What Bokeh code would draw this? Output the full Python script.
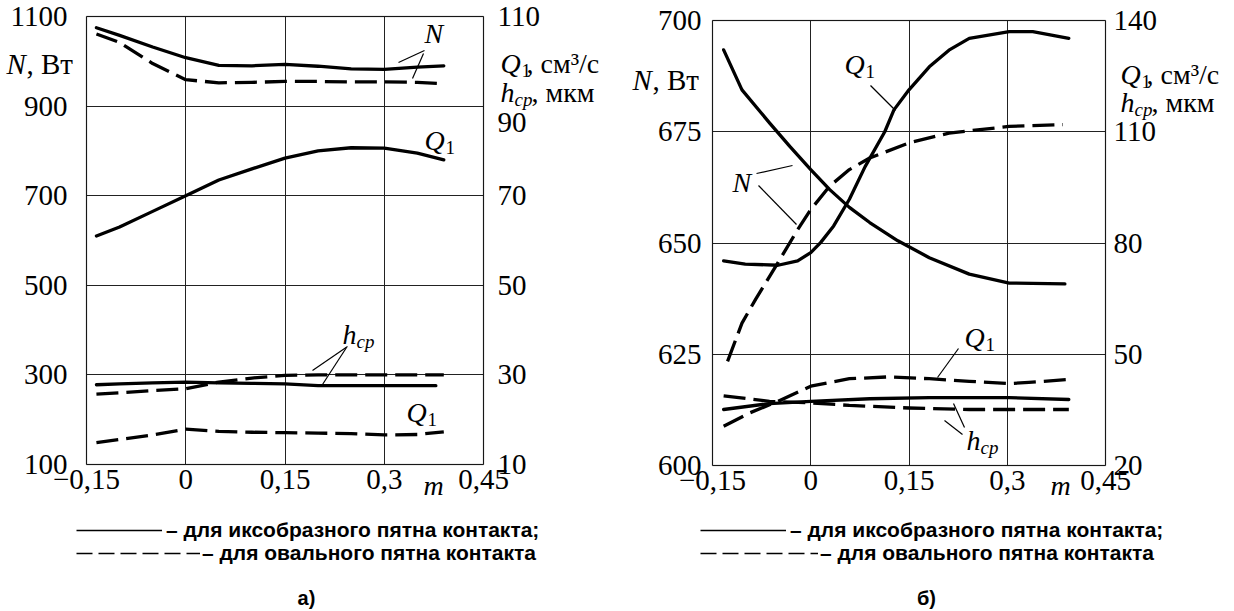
from bokeh.plotting import figure
from bokeh.models import (Range1d, LinearAxis, FixedTicker, Label, Legend, LegendItem, Arrow,
                          Grid, BoxAnnotation)
from bokeh.layouts import row
from bokeh.embed import file_html
from bokeh.resources import INLINE

# ---------------- data ----------------
x_ticks = [-0.15, 0.0, 0.15, 0.3, 0.45]
x_tick_labels = ["\u22120,15", "0", "0,15", "0,3", "0,45"]

# panel a)
a_N_ticks = [100, 300, 500, 700, 900, 1100]
a_Q_ticks = [10, 30, 50, 70, 90, 110]
a_m = [-0.135, -0.1, -0.05, 0.0, 0.05, 0.1, 0.15, 0.2, 0.25, 0.3, 0.35, 0.39]
a_N_x = [1075, 1058, 1032, 1008, 991, 990, 993, 989, 983, 982, 987, 990]
a_N_o = [1061, 1042, 995, 959, 952, 953, 955, 955, 954, 954, 953, 950]
a_Q_x = [61, 63, 66.5, 70, 73.5, 76, 78.4, 80, 80.7, 80.6, 79.5, 78]
a_Q_o = [14.9, 15.6, 16.6, 17.9, 17.4, 17.2, 17.1, 17.0, 16.9, 16.6, 16.7, 17.3]
a_m_h = [-0.135, -0.1, -0.05, 0.0, 0.05, 0.1, 0.15, 0.2, 0.25, 0.3, 0.35, 0.378]
a_h_x = [27.8, 28.0, 28.2, 28.4, 28.2, 28.1, 28.0, 27.6, 27.6, 27.6, 27.6, 27.6]
a_h_o = [25.7, 26.0, 26.5, 26.9, 28.4, 29.3, 29.9, 30.0, 30.0, 30.0, 30.0, 30.0]

# panel б)
b_N_ticks = [600, 625, 650, 675, 700]
b_Q_ticks = [20, 50, 80, 110, 140]
b_m_Nx = [-0.133, -0.105, -0.063, -0.032, 0.0, 0.029, 0.059, 0.09, 0.133, 0.181, 0.242, 0.303, 0.388]
b_N_x = [693.4, 684.4, 677, 671.7, 666.5, 662, 658, 654.6, 650.5, 646.7, 643, 641, 640.8]
b_m_Qx = [-0.133, -0.1, -0.05, -0.02, 0.0, 0.015, 0.035, 0.059, 0.083, 0.113, 0.127, 0.15,
          0.181, 0.211, 0.242, 0.303, 0.339, 0.394]
b_Q_x = [75.2, 74.3, 74.0, 75.2, 77.4, 80.1, 84.6, 91.8, 100.6, 110, 115.9, 121.3,
         127.5, 132, 135.2, 137, 137, 135.2]
b_m_No = [-0.127, -0.105, -0.084, -0.05, -0.02, 0.0, 0.029, 0.059, 0.09, 0.15, 0.211, 0.303, 0.385]
b_N_o = [623.4, 632, 637.4, 645.6, 653, 657.5, 662.8, 666.5, 669.1, 672.5, 674.7, 676.2, 676.6]
b_m_Qo = [-0.133, -0.093, -0.05, 0.0, 0.059, 0.12, 0.181, 0.242, 0.303, 0.333, 0.394]
b_Q_o = [30.6, 34.2, 37.3, 41.4, 43.4, 43.9, 43.4, 42.7, 42.1, 42.4, 43.2]
b_m_hx = [-0.133, -0.063, 0.0, 0.09, 0.181, 0.303, 0.394]
b_h_x = [35.1, 36.7, 37.3, 38.0, 38.3, 38.3, 37.8]
b_m_ho = [-0.133, -0.063, 0.0, 0.059, 0.15, 0.242, 0.394]
b_h_o = [38.8, 37.3, 36.9, 36.2, 35.5, 35.1, 35.1]

legend_solid = "\u2013 для иксобразного пятна контакта;"
legend_dash = "\u2013 для овального пятна контакта"

# ---------------- styling ----------------
SERIF = "Liberation Serif"
SANS = "Liberation Sans"
W, H = 617, 611
XMIN, XMAX = -0.15, 0.45
LW = 3.3
DASH = "22 8"
TICK_FS = "29px"
HAS_CB = "cross_bounds" in Grid.properties()


class Panel:
    """One chart; the Bokeh frame covers the whole canvas, the chart box is
    placed with fixed-location axes so that outside texts are not clipped."""

    def __init__(self, off, fl, fr, ft, fb, y0, y1, q0, q1, yticks, qticks, lst, rst, q_hidden=()):
        self.off, self.fl, self.fr, self.ft, self.fb = off, fl, fr, ft, fb
        self.y0, self.y1 = y0, y1
        xpp = (XMAX - XMIN) / (fr - fl)
        ypp = (y1 - y0) / (fb - ft)
        qpp = (q1 - q0) / (fb - ft)
        xr = Range1d(XMIN - (fl - off) * xpp, XMAX + (off + W - fr) * xpp)
        yr = Range1d(y0 - (H - fb) * ypp, y1 + ft * ypp)
        p = figure(width=W, height=H, x_range=xr, y_range=yr,
                   x_axis_location=None, y_axis_location=None,
                   min_border_left=0, min_border_right=0, min_border_top=0, min_border_bottom=0,
                   output_backend="svg", toolbar_location=None)
        p.extra_y_ranges = {"q": Range1d(q0 - (H - fb) * qpp, q1 + ft * qpp)}
        p.outline_line_color = None
        p.background_fill_color = "white"
        p.border_fill_color = "white"
        p.xgrid.visible = False
        p.ygrid.visible = False

        gkw = dict(grid_line_color="#222222", grid_line_width=1, grid_line_alpha=1)
        if HAS_CB:
            gx = Grid(dimension=0, ticker=FixedTicker(ticks=x_ticks), cross_bounds=(y0, y1), **gkw)
            gy = Grid(dimension=1, ticker=FixedTicker(ticks=yticks), cross_bounds=(XMIN, XMAX), **gkw)
            p.add_layout(gx)
            p.add_layout(gy)
        else:
            p.segment(x0=x_ticks, y0=[y0] * len(x_ticks), x1=x_ticks, y1=[y1] * len(x_ticks),
                      line_color="#222222", line_width=1)
            p.segment(x0=[XMIN] * len(yticks), y0=yticks, x1=[XMAX] * len(yticks), y1=yticks,
                      line_color="#222222", line_width=1)
        p.add_layout(BoxAnnotation(left=XMIN, right=XMAX, bottom=y0, top=y1, fill_alpha=0,
                                   line_color="black", line_width=1.5, level="underlay"))

        lax = LinearAxis(fixed_location=XMIN, bounds=(y0, y1), ticker=FixedTicker(ticks=yticks))
        rax = LinearAxis(y_range_name="q", fixed_location=XMAX, bounds=(q0, q1),
                         ticker=FixedTicker(ticks=qticks))
        bax = LinearAxis(fixed_location=y0, bounds=(XMIN, XMAX), ticker=FixedTicker(ticks=x_ticks))
        bax.major_label_overrides = dict(zip(x_ticks, x_tick_labels))
        if q_hidden:
            rax.major_label_overrides = {v: "" for v in q_hidden}
        lax.major_label_standoff = lst
        rax.major_label_standoff = rst
        bax.major_label_standoff = 5
        p.add_layout(lax, "left")
        p.add_layout(rax, "right")
        p.add_layout(bax, "below")
        for ax in [lax, rax, bax]:
            ax.axis_line_color = None
            ax.major_tick_line_color = None
            ax.minor_tick_line_color = None
            ax.major_tick_in = 0
            ax.major_tick_out = 0
            ax.major_label_text_font = SERIF
            ax.major_label_text_font_size = TICK_FS
            ax.major_label_text_color = "black"
        self.p = p

    def dc(self, px, py):
        x = XMIN + (px - self.fl) / (self.fr - self.fl) * (XMAX - XMIN)
        y = self.y1 - (py - self.ft) / (self.fb - self.ft) * (self.y1 - self.y0)
        return x, y

    def line(self, x, y, dashed=False, q=False, width=LW, dash=DASH):
        kw = dict(line_color="black", line_width=width, line_join="round", line_cap="round")
        if dashed:
            kw["line_dash"] = dash
            kw["line_cap"] = "butt"
        if q:
            kw["y_range_name"] = "q"
        return self.p.line(x, y, **kw)

    def text(self, px, py, s, size=28, style="normal", font=SERIF, align="left"):
        x, y = self.dc(px, py)
        self.p.add_layout(Label(x=x, y=y, text=s, text_font=font, text_font_size=f"{size}px",
                                text_font_style=style, text_align=align, text_baseline="middle",
                                text_color="black"))

    def lead(self, x0, y0, x1, y1):
        a, b = self.dc(x0, y0)
        c, d = self.dc(x1, y1)
        self.p.add_layout(Arrow(end=None, x_start=a, y_start=b, x_end=c, y_end=d,
                                line_color="black", line_width=1.2))

    def q1(self, px, py):
        self.text(px, py, "Q", style="italic")
        self.text(px + 21, py + 7, "1", size=19)

    def hcp(self, px, py, tail=""):
        self.text(px, py, "h", style="italic")
        self.text(px + 14, py + 7, "ср", size=19, style="italic")
        if tail:
            self.text(px + 31, py, tail)

    def legends(self, lx, ysolid, ydash, wsolid, wdash, xs, ys):
        # legend swatches: one-vertex lines (draw nothing in the chart itself)
        sl = self.p.line(x=xs[:1], y=ys[:1], line_color="black", line_width=1.6, line_cap="butt")
        dl = self.p.line(x=xs[:1], y=ys[:1], line_color="black", line_width=1.6, line_cap="butt",
                         line_dash="16 6")
        for r, lab, yy, gw, st in [(sl, legend_solid, ysolid, wsolid, 4),
                                   (dl, legend_dash, ydash, wdash, 2)]:
            leg = Legend(items=[LegendItem(label=lab, renderers=[r])],
                         location=(lx - self.off, H - (yy + 10)),
                         glyph_width=gw, glyph_height=20, label_height=20, label_standoff=st,
                         padding=0, margin=0, spacing=0, border_line_color=None,
                         background_fill_alpha=0, label_text_font=SANS,
                         label_text_font_style="bold", label_text_font_size="21px",
                         label_text_color="black")
            self.p.add_layout(leg)


# ---------------- panel a ----------------
A = Panel(0, 86, 483, 16, 464, 100, 1100, 10, 110, a_N_ticks, a_Q_ticks, 19, 14, q_hidden=(90,))
A.line(a_m, a_N_x)
A.line(a_m, a_N_o, dashed=True)
A.line(a_m, a_Q_x, q=True)
A.line(a_m, a_Q_o, dashed=True, q=True)
A.line(a_m_h, a_h_x, q=True)
A.line(a_m, a_h_o, dashed=True, q=True)

A.text(6, 63, "N", style="italic", size=29)
A.text(26, 63, ", Вт", size=29)
A.q1(500, 63)
A.text(526, 63, ", см³/с")
A.hcp(500, 92, ", мкм")
A.text(497, 122, "90", size=29)
A.text(424, 33, "N", style="italic")
A.lead(424, 50, 398, 62)
A.lead(423, 53, 412, 78)
A.q1(424, 140)
A.hcp(342, 334)
A.lead(347, 346, 312, 370)
A.lead(346, 347, 322, 384)
A.q1(406, 412)
A.text(423, 485, "m", style="italic")
A.legends(76, 532, 555, 86, 124, a_m, a_N_x)
A.text(306, 597, "а)", size=20, style="bold", font=SANS, align="center")

# ---------------- panel б ----------------
B = Panel(617, 712, 1105, 20, 465, 600, 700, 20, 140, b_N_ticks, b_Q_ticks, 11, 8)
B.line(b_m_Nx, b_N_x)
B.line(b_m_No, b_N_o, dashed=True)
B.line(b_m_Qx, b_Q_x, q=True)
B.line(b_m_Qo, b_Q_o, dashed=True, q=True)
B.line(b_m_hx, b_h_x, q=True)
B.line(b_m_ho, b_h_o, dashed=True, q=True)

B.text(632, 79, "N", style="italic", size=29)
B.text(652, 79, ", Вт", size=29)
B.q1(1120, 74)
B.text(1146, 74, ", см³/с")
B.hcp(1120, 102, ", мкм")
B.q1(844, 64)
B.lead(870, 85, 895, 110)
B.text(732, 182, "N", style="italic")
B.lead(756, 173, 792, 165)
B.lead(758, 185, 796, 224)
B.q1(964, 337)
B.lead(958, 348, 937, 377)
B.hcp(966, 440)
B.lead(962, 434, 944, 420)
B.lead(964, 427, 953, 403)
B.text(1050, 485, "m", style="italic")
B.legends(700, 532, 555, 86, 118, b_m_Nx, b_N_x)
B.text(926, 597, "б)", size=20, style="bold", font=SANS, align="center")

layout = row(A.p, B.p, spacing=0)
open("out.html", "w").write(file_html(layout, INLINE))
